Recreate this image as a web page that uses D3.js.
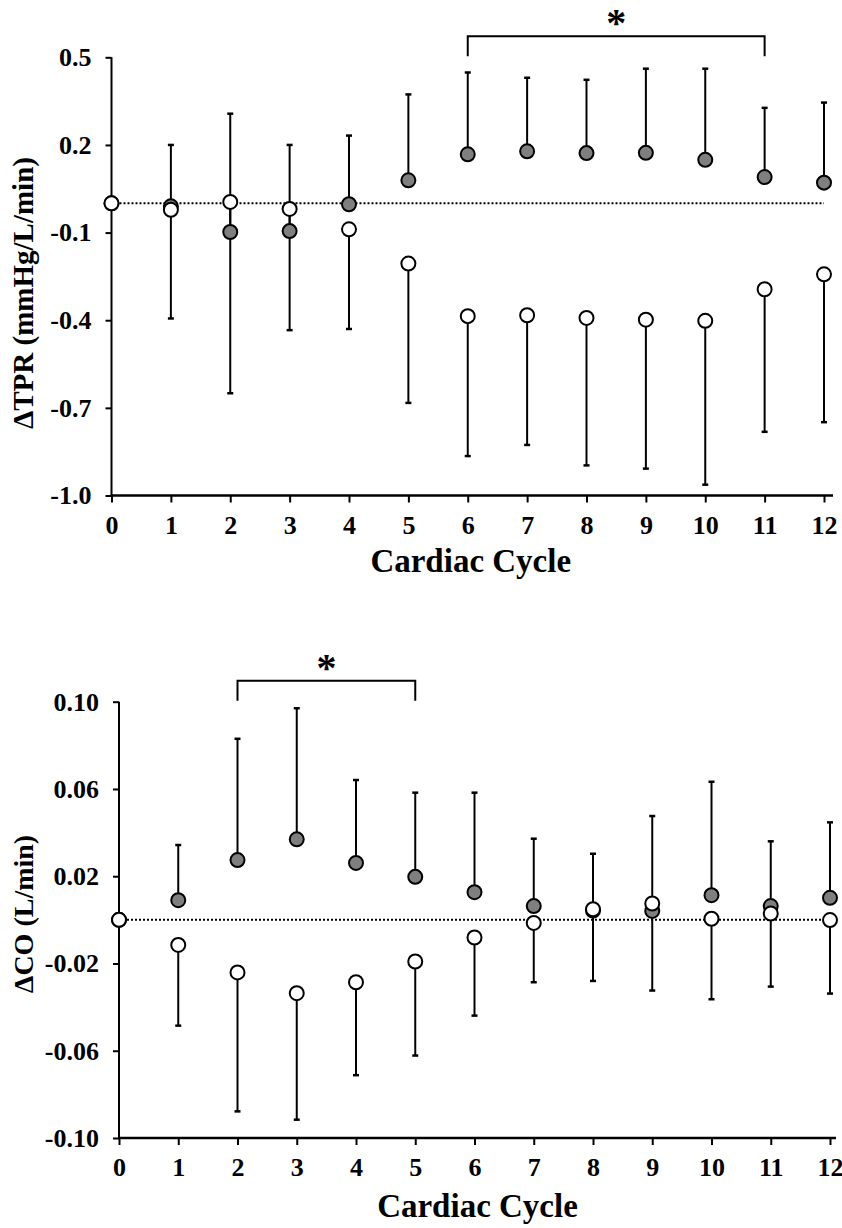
<!DOCTYPE html>
<html>
<head>
<meta charset="utf-8">
<script src="https://cdn.jsdelivr.net/npm/d3@7"></script>
<style>
  body { margin: 0; background: #fff; }
  svg text { font-family: "Liberation Serif", "Times New Roman", serif; font-weight: bold; fill: #000; }
</style>
</head>
<body>
<svg id="canvas" width="842" height="1228"></svg>
<script>
let cycles = [0, 1, 2, 3, 4, 5, 6, 7, 8, 9, 10, 11, 12]

// TPR - filled group (mean, SD drawn upward) and open group (mean, SD drawn downward)
let tprFilled = [0, -0.010, -0.098, -0.095, -0.003, 0.079, 0.168, 0.178, 0.172, 0.173, 0.149, 0.090, 0.071]
let tprFilledSD = [0, 0.210, 0.405, 0.295, 0.235, 0.294, 0.280, 0.252, 0.251, 0.288, 0.312, 0.237, 0.274]
let tprOpen = [0, -0.022, 0.005, -0.019, -0.089, -0.206, -0.386, -0.383, -0.392, -0.398, -0.402, -0.294, -0.243]
let tprOpenSD = [0, 0.372, 0.655, 0.415, 0.341, 0.477, 0.479, 0.444, 0.505, 0.510, 0.561, 0.488, 0.506]
let tprTicks = [-1.0, -0.7, -0.4, -0.1, 0.2, 0.5]
let tprSig = [6, 11]

// CO
let coFilled = [0, 0.0090, 0.0274, 0.0369, 0.0261, 0.0197, 0.0127, 0.0063, 0.0043, 0.0041, 0.0113, 0.0063, 0.0101]
let coFilledSD = [0, 0.0253, 0.0556, 0.0601, 0.0380, 0.0386, 0.0456, 0.0309, 0.0260, 0.0435, 0.0520, 0.0297, 0.0346]
let coOpen = [0, -0.0115, -0.0241, -0.0336, -0.0286, -0.0191, -0.0081, -0.0014, 0.0049, 0.0075, 0.0005, 0.0029, -0.0001]
let coOpenSD = [0, 0.0370, 0.0637, 0.0580, 0.0426, 0.0431, 0.0358, 0.0272, 0.0329, 0.0399, 0.0369, 0.0335, 0.0337]
let coTicks = [-0.10, -0.06, -0.02, 0.02, 0.06, 0.10]
let coSig = [2, 5]

let canvas = d3.select('#canvas')

let drawPanel = (p) => {
  let x = d3.scaleLinear().domain([0, 12]).range([p.left, p.right])
  let y = d3.scaleLinear().domain(p.domain).range([p.bottom, p.top])
  let g = canvas.append('g')
  let fmt = d3.format(p.fmt)

  // y axis (plain hyphen for negatives)
  let yAxis = d3.axisLeft(y).tickValues(p.ticks).tickSize(6).tickPadding(14)
    .tickFormat(d => fmt(d).replace('\u2212', '-'))
  g.append('g')
    .attr('transform', 'translate(' + p.left + ',0)')
    .call(yAxis)
    .call(a => a.select('.domain').remove())
    .call(a => a.selectAll('line').attr('stroke', '#000').attr('stroke-width', 2))
    .call(a => a.selectAll('text').style('font-size', p.tickFont + 'px'))
  g.append('line')
    .attr('x1', p.left).attr('x2', p.left)
    .attr('y1', y(p.domain[1])).attr('y2', p.bottom)
    .attr('stroke', '#000').attr('stroke-width', 2)

  // x axis
  let xAxis = d3.axisBottom(x).tickValues(cycles).tickSize(7).tickPadding(13)
    .tickFormat(d3.format('d'))
  g.append('g')
    .attr('transform', 'translate(0,' + p.bottom + ')')
    .call(xAxis)
    .call(a => a.select('.domain').remove())
    .call(a => a.selectAll('line').attr('stroke', '#000').attr('stroke-width', 2))
    .call(a => a.selectAll('text').style('font-size', p.tickFont + 'px'))
  g.append('line')
    .attr('x1', p.left - 1).attr('x2', p.right + p.overhang)
    .attr('y1', p.bottom).attr('y2', p.bottom)
    .attr('stroke', '#000').attr('stroke-width', 2.5)

  // dotted zero line
  g.append('line')
    .attr('x1', x(0)).attr('x2', x(12))
    .attr('y1', y(0)).attr('y2', y(0))
    .attr('stroke', '#000').attr('stroke-width', 2)
    .attr('stroke-dasharray', '2,2')

  // error bars: filled up, open down
  let bars = []
  cycles.forEach((c, i) => {
    if (p.filledSD[i] > 0) bars.push({ c: c, from: p.filled[i], to: p.filled[i] + p.filledSD[i] })
    if (p.openSD[i] > 0) bars.push({ c: c, from: p.open[i], to: p.open[i] - p.openSD[i] })
  })
  g.selectAll('.bar')
    .data(bars)
    .enter()
    .append('line')
    .attr('class', 'bar')
    .attr('x1', d => x(d.c)).attr('x2', d => x(d.c))
    .attr('y1', d => y(d.from)).attr('y2', d => y(d.to))
    .attr('stroke', '#000').attr('stroke-width', 2)
  g.selectAll('.cap')
    .data(bars)
    .enter()
    .append('line')
    .attr('class', 'cap')
    .attr('x1', d => x(d.c) - 3).attr('x2', d => x(d.c) + 3)
    .attr('y1', d => y(d.to)).attr('y2', d => y(d.to))
    .attr('stroke', '#000').attr('stroke-width', 2.5)

  // markers
  g.selectAll('.filled')
    .data(cycles)
    .enter()
    .append('circle')
    .attr('class', 'filled')
    .attr('cx', d => x(d))
    .attr('cy', (d, i) => y(p.filled[i]))
    .attr('r', 7)
    .attr('fill', '#7f7f7f')
    .attr('stroke', '#000').attr('stroke-width', 2)
  g.selectAll('.open')
    .data(cycles)
    .enter()
    .append('circle')
    .attr('class', 'open')
    .attr('cx', d => x(d))
    .attr('cy', (d, i) => y(p.open[i]))
    .attr('r', 7)
    .attr('fill', '#fff')
    .attr('stroke', '#000').attr('stroke-width', 2)

  // significance bracket
  let by = y(p.domain[1]) - 21
  g.append('path')
    .attr('d', 'M' + x(p.sig[0]) + ',' + (by + 20) + 'V' + by + 'H' + x(p.sig[1]) + 'V' + (by + 20))
    .attr('fill', 'none')
    .attr('stroke', '#000').attr('stroke-width', 2)
  g.append('text')
    .attr('x', (x(p.sig[0]) + x(p.sig[1])) / 2)
    .attr('y', by)
    .attr('text-anchor', 'middle')
    .style('font-size', '40px')
    .text('*')

  // axis titles
  g.append('text')
    .attr('x', (p.left + p.right) / 2 + 3)
    .attr('y', p.titleY)
    .attr('text-anchor', 'middle')
    .style('font-size', '33px')
    .text('Cardiac Cycle')
  g.append('text')
    .attr('transform', 'translate(33,' + p.labelY + ') rotate(-90)')
    .attr('text-anchor', 'middle')
    .style('font-size', p.labelFont + 'px')
    .text(p.label)
}

drawPanel({
  left: 111.5, right: 824, overhang: 9, top: 57.3, bottom: 495.5,
  domain: [-1, 0.5], ticks: tprTicks, fmt: '.1f', tickFont: 26,
  filled: tprFilled, filledSD: tprFilledSD, open: tprOpen, openSD: tprOpenSD,
  sig: tprSig, titleY: 572, labelY: 293, labelFont: 29, label: '\u0394TPR (mmHg/L/min)'
})

drawPanel({
  left: 119, right: 830, overhang: 6, top: 701.7, bottom: 1138,
  domain: [-0.1, 0.1], ticks: coTicks, fmt: '.2f', tickFont: 26,
  filled: coFilled, filledSD: coFilledSD, open: coOpen, openSD: coOpenSD,
  sig: coSig, titleY: 1217, labelY: 914, labelFont: 28, label: '\u0394CO (L/min)'
})
</script>
</body>
</html>
